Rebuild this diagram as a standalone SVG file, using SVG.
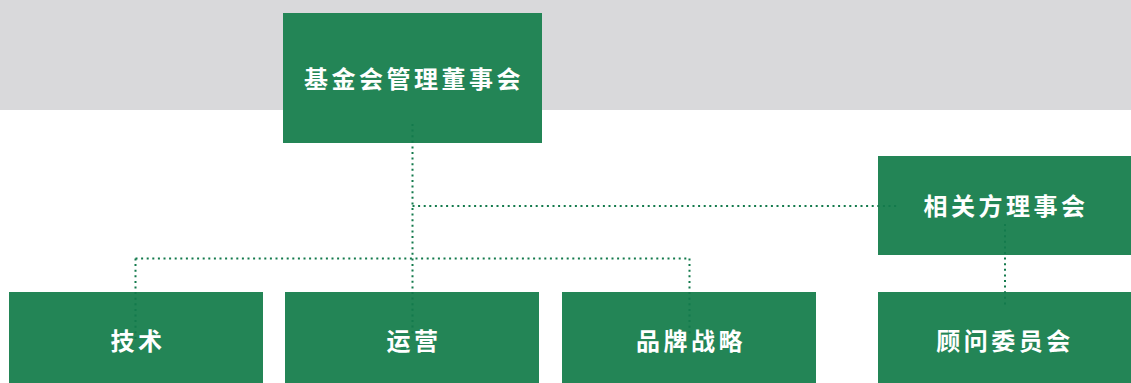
<svg xmlns="http://www.w3.org/2000/svg" width="1131" height="383" viewBox="0 0 1131 383">
<style>
.box{fill:#238556}
.lbl{fill:#ffffff;font-family:"Noto Sans CJK SC","Noto Sans",sans-serif;font-weight:700;font-size:24px;letter-spacing:3.5px;text-anchor:middle;dominant-baseline:central}
.con{fill:none;stroke:#137a4c;stroke-width:2;stroke-dasharray:2 3.6}
</style>
<rect x="0" y="0" width="1131" height="110" fill="#d9d9db"/>
<g id="n-board"><rect class="box" x="283" y="13" width="259" height="130"/><text class="lbl" x="414" y="77">基金会管理董事会</text></g>
<g id="n-stake"><rect class="box" x="878" y="156" width="253" height="99"/><text class="lbl" x="1006" y="204">相关方理事会</text></g>
<g id="n-advisory"><rect class="box" x="878" y="292" width="253" height="91"/><text class="lbl" x="1005" y="339">顾问委员会</text></g>
<g id="n-tech"><rect class="box" x="9" y="292" width="254" height="91"/><text class="lbl" x="138" y="339">技术</text></g>
<g id="n-ops"><rect class="box" x="285" y="292" width="254" height="91"/><text class="lbl" x="414" y="339">运营</text></g>
<g id="n-brand"><rect class="box" x="562" y="292" width="254" height="91"/><text class="lbl" x="691" y="339">品牌战略</text></g>
<g id="connectors">
<path class="con" d="M412.5 124 V336"/>
<path class="con" d="M412.5 206 H898"/>
<path class="con" d="M135.5 258.5 H689.5"/>
<path class="con" d="M135.5 258.5 V340"/>
<path class="con" d="M689.5 258.5 V334"/>
<path class="con" d="M1005 224 V307"/>
</g>
</svg>
